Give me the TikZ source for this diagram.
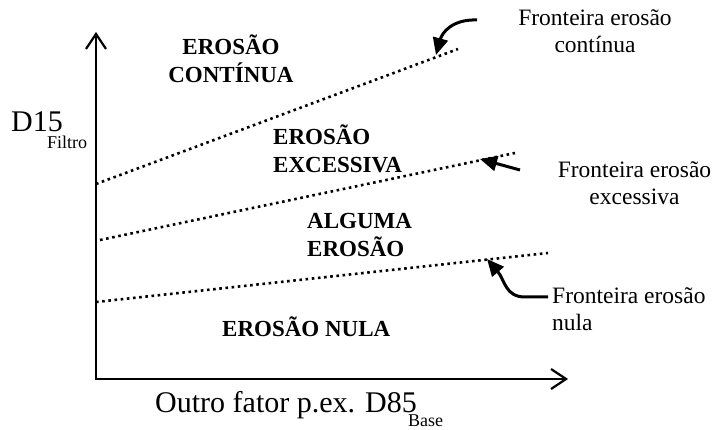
\documentclass[tikz,border=0pt]{standalone}
\usepackage{fontspec}
\setmainfont{Liberation Serif}
\usetikzlibrary{arrows.meta}
\begin{document}
\begin{tikzpicture}[x=1pt,y=-1pt,
  barb/.tip={Straight Barb[length=15pt,width=20pt]},
  axis/.style={line width=2.2pt,{barb}-{barb}},
  boundary/.style={line width=2.6pt,dash pattern=on 2.6pt off 3.6pt},
  callout/.style={line width=3pt,-{Triangle[length=17pt,width=15pt]}},
  region/.style={font=\fontsize{23}{28}\selectfont\bfseries,inner sep=0pt},
  note/.style={font=\fontsize{23.5}{27.5}\selectfont,inner sep=0pt},
  axlabel/.style={font=\fontsize{30}{34}\selectfont,inner sep=0pt,text depth=0pt,anchor=base west},
  sublabel/.style={font=\fontsize{18}{20}\selectfont,inner sep=0pt,text height=12pt,text depth=0pt,anchor=base west}]
\useasboundingbox (0,0) rectangle (713,430);
% axes
\coordinate (Ytop) at (96,32);
\coordinate (O) at (96,379);
\coordinate (Xend) at (568,379);
\draw[axis] (Ytop) -- (O) -- (Xend);
% boundaries
\coordinate (b1s) at (96,184);  \coordinate (b1e) at (458,49);
\coordinate (b2s) at (100,240); \coordinate (b2e) at (515,153);
\coordinate (b3s) at (96,302);  \coordinate (b3e) at (548,253);
\draw[boundary] (b1s) -- (b1e);
\draw[boundary] (b2s) -- (b2e);
\draw[boundary] (b3s) -- (b3e);
% region labels (base anchor = baseline of the last line)
\node[region,align=center,anchor=base] (r1) at (231,83) {EROSÃO\\CONTÍNUA};
\node[region,align=left,anchor=base west] (r2) at (273,173) {EROSÃO\\EXCESSIVA};
\node[region,align=left,anchor=base west] (r3) at (307,257) {ALGUMA\\EROSÃO};
\node[region,anchor=base west] (r4) at (222,337) {EROSÃO NULA};
% boundary notes
\node[note,align=center,anchor=base] (n1) at (595,53) {Fronteira erosão\\contínua};
\node[note,align=center,anchor=base] (n2) at (634.5,205) {Fronteira erosão\\excessiva};
\node[note,align=left,anchor=base west] (n3) at (552,331) {Fronteira erosão\\nula};
% callout arrows
\coordinate (t1) at (436,55);
\coordinate (t2) at (480,159);
\coordinate (t3) at (487,259);
\coordinate (s1) at (477,20);
\coordinate (s2) at (520,170);
\coordinate (s3) at (548,297);
\draw[callout] (s1) .. controls (452,19) and (442,33) .. (t1);
\draw[callout] (s2) -- (t2);
\draw[callout] (s3) -- (525,297) .. controls (505,297) and (505,280) .. (t3);
% axis labels
\node[axlabel] (ylab) at (11,132) {D15};
\node[sublabel] (ysub) at (47,149) {Filtro};
\node[axlabel] (xlab) at (155,413) {Outro fator p.ex. D85};
\node[sublabel] (xsub) at (408,426.5) {Base};
\end{tikzpicture}
\end{document}
